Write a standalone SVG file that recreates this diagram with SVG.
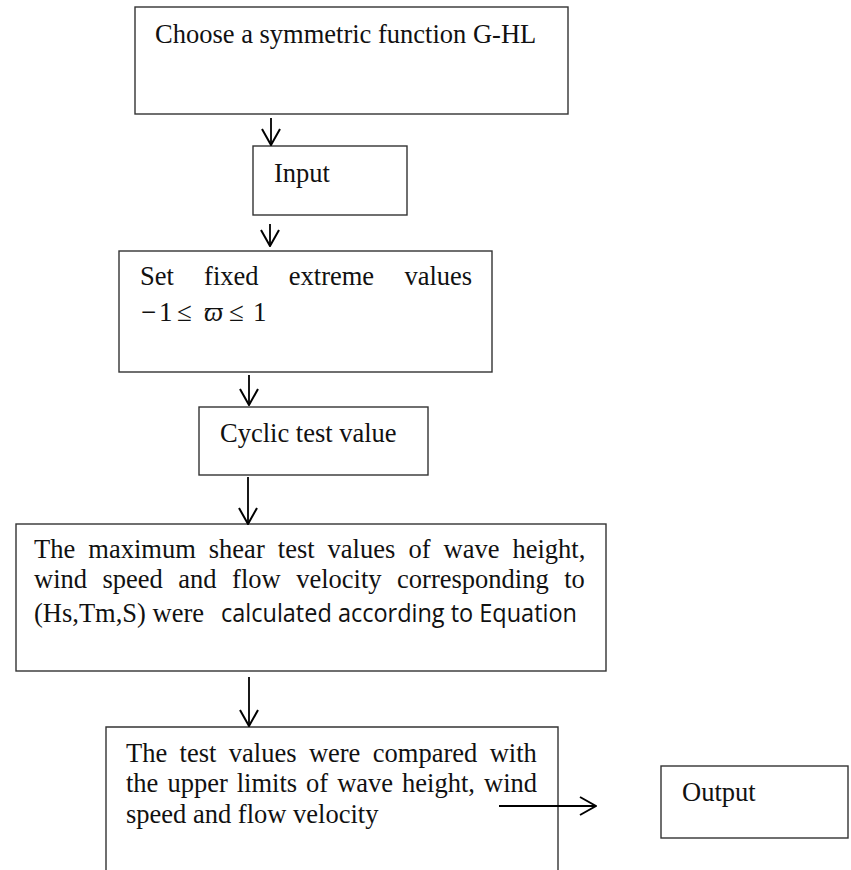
<svg xmlns="http://www.w3.org/2000/svg" width="851" height="870" viewBox="0 0 851 870">
<defs>
<style>
.box{fill:#fff;stroke:#333;stroke-width:1.4}
.t{font-family:"Liberation Serif","Times New Roman",serif;font-size:26.5px;fill:#111}
.m{font-family:"Liberation Serif","DejaVu Serif",serif;font-size:27px;fill:#111}
.c{font-family:"Open Sans","Noto Sans",sans-serif;font-size:25px;fill:#111}
.conn{stroke:#000;stroke-width:1.8;fill:none;marker-end:url(#arr)}
</style>
<marker id="arr" viewBox="0 0 18 20" refX="17" refY="10" markerWidth="18" markerHeight="20" markerUnits="userSpaceOnUse" orient="auto">
<path d="M1,1 L17,10 L1,19" fill="none" stroke="#000" stroke-width="2"/>
</marker>
</defs>
<rect width="851" height="870" fill="#fff"/>
<g id="n1">
<rect class="box" x="135" y="7" width="433" height="107"/>
<text class="t" x="155" y="43">Choose a symmetric function G-HL</text>
</g>
<g id="n2">
<rect class="box" x="253" y="146" width="154" height="69"/>
<text class="t" x="274" y="182">Input</text>
</g>
<g id="n3">
<rect class="box" x="119" y="251" width="373" height="121"/>
<text class="t" y="285"><tspan x="140">Set</tspan><tspan x="204.1">fixed</tspan><tspan x="288.8">extreme</tspan><tspan x="404.4">values</tspan></text>
<text class="m" y="321"><tspan x="141">−</tspan><tspan x="159">1</tspan><tspan x="177">≤</tspan><tspan x="204" font-style="italic">ϖ</tspan><tspan x="229">≤</tspan><tspan x="253">1</tspan></text>
</g>
<g id="n4">
<rect class="box" x="199" y="407" width="229" height="68"/>
<text class="t" x="220" y="442">Cyclic test value</text>
</g>
<g id="n5">
<rect class="box" x="16" y="524" width="590" height="147"/>
<text class="t" y="558"><tspan x="34">The</tspan><tspan x="88.3">maximum</tspan><tspan x="208.8">shear</tspan><tspan x="277.8">test</tspan><tspan x="327.6">values</tspan><tspan x="408.4">of</tspan><tspan x="443.5">wave</tspan><tspan x="512.5">height,</tspan></text>
<text class="t" y="588"><tspan x="34">wind</tspan><tspan x="102.5">speed</tspan><tspan x="178.3">and</tspan><tspan x="232.1">flow</tspan><tspan x="296.2">velocity</tspan><tspan x="397.1">corresponding</tspan><tspan x="564.2">to</tspan></text>
<text class="t" x="34" y="622">(Hs,Tm,S) were</text>
<text class="c" x="221" y="622" textLength="356" lengthAdjust="spacingAndGlyphs">calculated according to Equation</text>
</g>
<g id="n6">
<path class="box" d="M106,871 V727 H558 V871"/>
<text class="t" y="762"><tspan x="126">The</tspan><tspan x="179.6">test</tspan><tspan x="228.8">values</tspan><tspan x="308.9">were</tspan><tspan x="372.8">compared</tspan><tspan x="489.7">with</tspan></text>
<text class="t" y="792"><tspan x="126">the</tspan><tspan x="167.4">upper</tspan><tspan x="236.7">limits</tspan><tspan x="306.1">of</tspan><tspan x="337.2">wave</tspan><tspan x="402.1">height,</tspan><tspan x="484">wind</tspan></text>
<text class="t" x="126" y="823">speed and flow velocity</text>
</g>
<g id="n7">
<rect class="box" x="661" y="766" width="187" height="72"/>
<text class="t" x="682" y="801">Output</text>
</g>
<g id="connectors">
<path class="conn" d="M271,118 V145"/>
<path class="conn" d="M270,224 V246"/>
<path class="conn" d="M249,375 V405"/>
<path class="conn" d="M248,477 V524"/>
<path class="conn" d="M249,677 V726"/>
<path class="conn" d="M499,806 H596"/>
</g>
</svg>
